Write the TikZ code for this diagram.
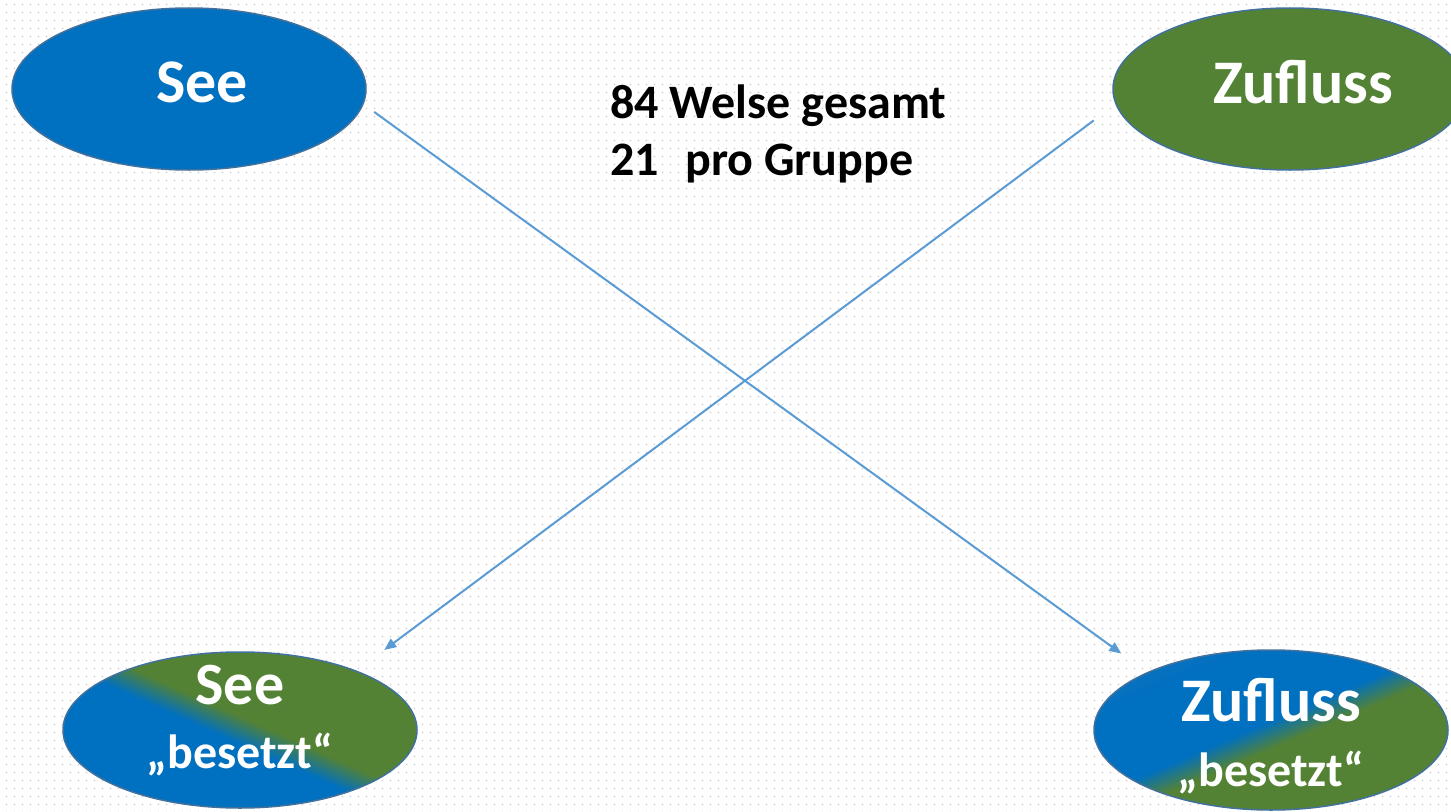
\documentclass[tikz,border=0pt]{standalone}
\usepackage{fontspec}
\setmainfont{Carlito}
\usetikzlibrary{shapes.geometric,arrows.meta,positioning,patterns.meta}

\definecolor{seeblue}{HTML}{0070C0}
\definecolor{lightblue}{HTML}{2E75B6}
\definecolor{flussgreen}{HTML}{548235}
\definecolor{rimblue}{HTML}{41719C}
\definecolor{arrowblue}{HTML}{5B9BD5}
\definecolor{dotgray}{HTML}{CFCFCF}

% two-colour fills of the lower ellipses
\pgfdeclareverticalshading{seebesetzt}{100bp}{color(0bp)=(seeblue); color(47bp)=(seeblue); color(53bp)=(flussgreen); color(100bp)=(flussgreen)}
\pgfdeclareverticalshading{zuflussbesetzt}{100bp}{color(0bp)=(lightblue); color(32bp)=(seeblue); color(48bp)=(seeblue); color(54bp)=(flussgreen); color(100bp)=(flussgreen)}

\begin{document}
\begin{tikzpicture}[x=0.5pt,y=0.5pt,
	pond/.style={ellipse,draw=rimblue,line width=0.75pt,text=white,inner sep=0pt,
		minimum width=177pt,minimum height=81pt,align=center},
	caption/.style={text=white,inner sep=0pt,align=center},
	link/.style={arrowblue,line width=1pt,-{Triangle[length=6pt,width=5pt]}}]
	% background with dots
	\useasboundingbox (0,0) rectangle (1451,811);
	\fill[white] (0,0) rectangle (1451,811);
	\fill[pattern={Dots[radius=0.5pt,distance=4pt]},pattern color=dotgray] (0,0) rectangle (1451,811);
	%% the ellipses
	\node[pond,fill=seeblue,font=\bfseries\fontsize{31}{37}\selectfont] (see) at (189,722)
		{\hspace{13pt}\raisebox{7pt}{See}};
	\node[pond,fill=flussgreen,font=\bfseries\fontsize{31}{37}\selectfont] (zufluss) at (1290,722)
		{\hspace{13pt}\raisebox{7pt}{Zufluss}};
	\node[pond,shade,shading=seebesetzt,shading angle=-24,minimum height=78pt] (seebes) at (240,81) {};
	\node[pond,shade,shading=zuflussbesetzt,shading angle=-157,minimum height=80pt] (zufbes) at (1271,81) {};
	%% their texts
	\node[caption,font=\bfseries\fontsize{24}{32}\selectfont] (seebestext) at ([yshift=4.5pt]seebes.center)
		{{\fontsize{30}{32}\selectfont See}\\„besetzt“};
	\node[caption,font=\bfseries\fontsize{24}{32.5}\selectfont] (zufbestext) at ([yshift=-3pt]zufbes.center)
		{{\fontsize{31}{32.5}\selectfont Zufluss}\\„besetzt“};
	%% the text
	\node[anchor=north west,inner sep=0pt,align=left,
	font=\bfseries\fontsize{24}{28.5}\selectfont] (info) at (610,727)
		{84 Welse gesamt\\21\hspace{0.55em}pro Gruppe};
	%% the arrows
	\draw[link,shorten <=6.5pt,shorten >=15.85pt] (see.-5.4) -- (zufbes.155.8);
	\draw[link,shorten <=13.5pt,shorten >=17.25pt] (zufluss.185) -- (seebes.27.3);
\end{tikzpicture}
\end{document}
